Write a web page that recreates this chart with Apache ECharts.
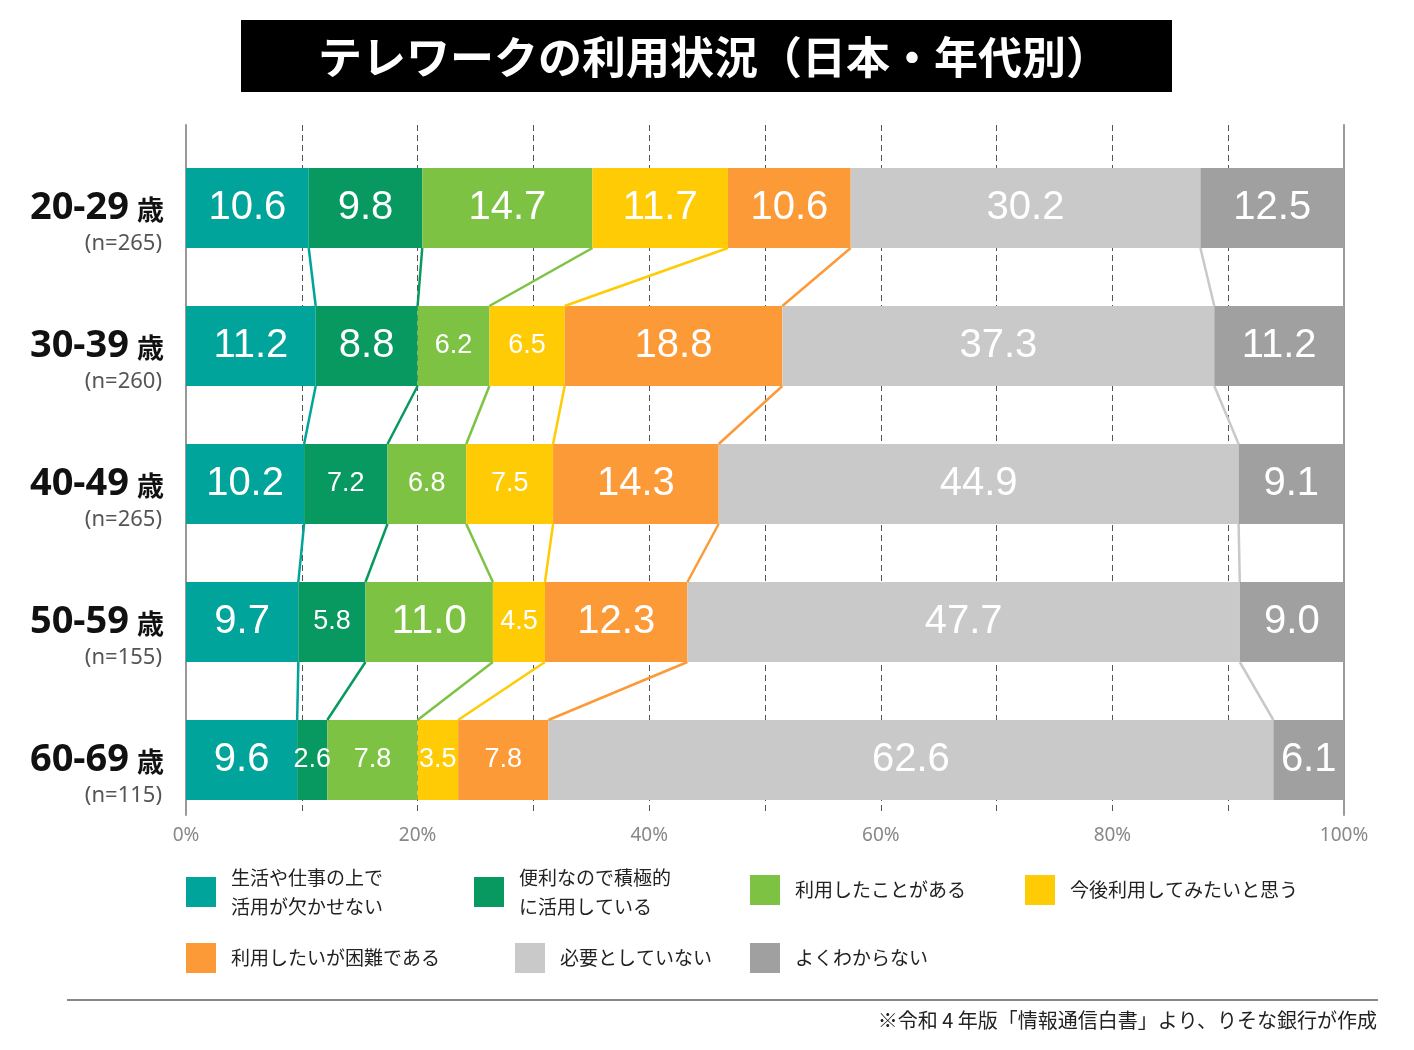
<!DOCTYPE html>
<html><head><meta charset="utf-8">
<script src="https://cdn.jsdelivr.net/npm/echarts@6/dist/echarts.min.js"></script>
<style>html,body{margin:0;padding:0;background:#fff;}#c{width:1414px;height:1050px;}</style>
</head><body><div id="c"></div>
<script>
const categories = ['20-29', '30-39', '40-49', '50-59', '60-69'];
const sampleSizes = ['n=265', 'n=260', 'n=265', 'n=155', 'n=115'];
const seriesNames = ['生活や仕事の上で活用が欠かせない', '便利なので積極的に活用している', '利用したことがある', '今後利用してみたいと思う', '利用したいが困難である', '必要としていない', 'よくわからない'];
const essential = [10.6, 11.2, 10.2, 9.7, 9.6];
const active = [9.8, 8.8, 7.2, 5.8, 2.6];
const used = [14.7, 6.2, 6.8, 11.0, 7.8];
const wantToUse = [11.7, 6.5, 7.5, 4.5, 3.5];
const difficult = [10.6, 18.8, 14.3, 12.3, 7.8];
const notNeeded = [30.2, 37.3, 44.9, 47.7, 62.6];
const unknown = [12.5, 11.2, 9.1, 9.0, 6.1];
const xTickLabels = [0, 20, 40, 60, 80, 100];
const titleText = 'テレワークの利用状況（日本・年代別）';
const sourceText = '※令和 4 年版「情報通信白書」より、りそな銀行が作成';

const seriesValues = [essential, active, used, wantToUse, difficult, notNeeded, unknown];
const colors = ['#00A49A', '#07995F', '#7DC243', '#FFCB05', '#FD9A38', '#C9C9C9', '#A0A0A0'];
const legendNames = {
  '生活や仕事の上で活用が欠かせない': '生活や仕事の上で\n活用が欠かせない',
  '便利なので積極的に活用している': '便利なので積極的\nに活用している'
};
const BAR = 80;

// connectors between bar boundaries
const connectorData = [];
for (let j = 0; j < 6; j++) {
  for (let i = 0; i < categories.length - 1; i++) {
    let a = 0, b = 0;
    for (let k = 0; k <= j; k++) { a += seriesValues[k][i]; b += seriesValues[k][i + 1]; }
    connectorData.push([a, b, i, j]);
  }
}

const legendPos = [[186, 863], [474, 863], [750, 875], [1025, 875], [186, 943], [515, 943], [750, 943]];

const chart = echarts.init(document.getElementById('c'));
const option = {
  animation: false,
  color: colors,
  textStyle: { fontFamily: "'Noto Sans CJK JP', sans-serif" },
  graphic: [
    { type: 'rect', left: 241, top: 20, shape: { width: 931, height: 72 }, style: { fill: '#000' } },
    { type: 'text', x: 714, y: 57, style: { text: titleText, fill: '#fff', font: "bold 44px 'Noto Sans CJK JP'", align: 'center', verticalAlign: 'middle' } },
    { type: 'line', shape: { x1: 67, y1: 1000, x2: 1378, y2: 1000 }, style: { stroke: '#888', lineWidth: 2 } },
    { type: 'text', x: 1377, y: 1020, style: { text: sourceText, fill: '#222', font: "20px 'Noto Sans CJK JP'", align: 'right', verticalAlign: 'middle' } }
  ],
  legend: seriesNames.map((n, i) => ({
    data: [n], left: legendPos[i][0], top: legendPos[i][1], padding: 0,
    icon: 'rect', itemWidth: 30, itemHeight: 30, selectedMode: false,
    formatter: name => legendNames[name] || name,
    textStyle: { fontSize: 19, lineHeight: 29, color: '#222', fontFamily: "'Noto Sans CJK JP'", padding: [0, 0, 0, 10] }
  })),
  grid: [
    { left: 186, width: 1158, top: 125, height: 690 },
    { left: 186, width: 1158, top: 139, height: 690 }
  ],
  xAxis: [
    {
      gridIndex: 0, type: 'value', min: 0, max: 100, interval: 10,
      axisLine: { show: false }, axisTick: { show: false },
      axisLabel: { margin: 11, color: '#888', fontSize: 19, fontFamily: "'Noto Sans'",
        formatter: v => xTickLabels.includes(v) ? v + '%' : '' },
      splitLine: { show: true, lineStyle: { type: [6, 4], color: '#555', width: 1 } }
    },
    { gridIndex: 1, type: 'value', min: 0, max: 100, show: false }
  ],
  yAxis: [
    { gridIndex: 0, type: 'value', position: 'left', axisLabel: { show: false }, splitLine: { show: false }, axisTick: { show: false },
      axisLine: { show: true, lineStyle: { color: '#999', width: 2 } } },
    { gridIndex: 0, type: 'value', position: 'right', axisLabel: { show: false }, splitLine: { show: false }, axisTick: { show: false },
      axisLine: { show: true, lineStyle: { color: '#999', width: 2 } } },
    {
      gridIndex: 1, type: 'category', data: categories, inverse: true,
      axisLine: { show: false }, axisTick: { show: false },
      axisLabel: {
        margin: 22, align: 'right', padding: [30, 0, 0, 0],
        formatter: (v, i) => '{a|' + v + '}{b|歳}\n{c|(' + sampleSizes[i] + ')}',
        rich: {
          a: { fontSize: 38, fontWeight: 'bold', fontFamily: "'Noto Sans'", color: '#111', lineHeight: 42 },
          b: { fontSize: 27, fontWeight: 'bold', fontFamily: "'Noto Sans CJK JP'", color: '#111', padding: [4, 0, 0, 8], lineHeight: 42 },
          c: { fontSize: 22, fontFamily: "'Noto Sans'", color: '#555', lineHeight: 30, align: 'right', padding: [0, 2, 0, 0] }
        }
      }
    }
  ],
  series: seriesNames.map((n, si) => ({
    name: n, type: 'bar', stack: 'total', xAxisIndex: 1, yAxisIndex: 2, barWidth: BAR,
    data: seriesValues[si],
    label: {
      show: true, position: 'inside', color: '#fff',
      formatter: p => (p.value < 8 && si < 6 ? '{s|' : '{b|') + p.value.toFixed(1) + '}',
      rich: {
        b: { fontSize: 40, fontFamily: "'Liberation Sans', Arial", color: '#fff' },
        s: { fontSize: 27, fontFamily: "'Liberation Sans', Arial", color: '#fff' }
      }
    }
  })).concat([{
    type: 'custom', xAxisIndex: 1, yAxisIndex: 2, z: 3,
    encode: { x: [0, 1], y: 2 },
    data: connectorData,
    renderItem: (params, api) => {
      const p1 = api.coord([api.value(0), api.value(2)]);
      const p2 = api.coord([api.value(1), api.value(2) + 1]);
      return { type: 'line', shape: { x1: p1[0], y1: p1[1] + BAR / 2, x2: p2[0], y2: p2[1] - BAR / 2 },
        style: { stroke: colors[api.value(3)], lineWidth: 2.5 } };
    }
  }])
};
chart.setOption(option);
</script></body></html>
